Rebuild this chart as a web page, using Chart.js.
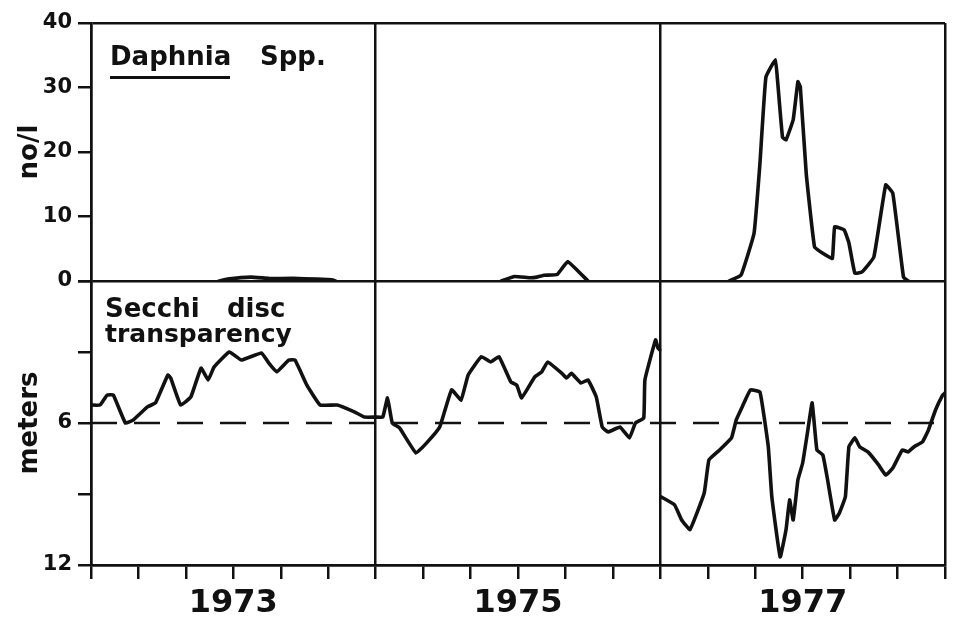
<!DOCTYPE html>
<html>
<head>
<meta charset="utf-8">
<script src="https://cdn.jsdelivr.net/npm/chart.js@4.4.1/dist/chart.umd.min.js"></script>
<style>
  html, body { margin: 0; padding: 0; background: #fff; }
  #wrap { position: relative; width: 956px; height: 619px; overflow: hidden; }
  #c { position: absolute; left: 0; top: 0; }
  .lbl { position: absolute; font-family: "DejaVu Sans", sans-serif; font-weight: bold; color: #111; white-space: pre; line-height: 1; }
  .rule { position: absolute; background: #111; }
</style>
</head>
<body>
<div id="wrap">
  <canvas id="c" width="956" height="619"></canvas>
  <div class="lbl" style="left:110px; top:43px; font-size:26px;">Daphnia</div>
  <div class="rule" style="left:110px; top:76px; width:120px; height:3px;"></div>
  <div class="lbl" style="left:260px; top:43px; font-size:26px;">Spp.</div>
  <div class="lbl" style="left:105px; top:295px; font-size:26px;">Secchi</div>
  <div class="lbl" style="left:227px; top:295px; font-size:26px;">disc</div>
  <div class="lbl" style="left:105px; top:321px; font-size:25px;">transparency</div>
</div>
<script>
// x = month position on the broken time axis: 0–12 = 1973, 12–24 = 1975, 24–36 = 1977
const yearTickPositions = [6, 18, 30];
const yearTickLabels = ['1973', '1975', '1977'];
const daphniaTickLabels = [0, 10, 20, 30, 40];
const secchiTickLabels = [6, 12];
const secchiReference = 6;

// Daphnia spp. (no/l); null = gap between panels
const daphniaMonth = [5.4, 5.75, 6.75, 7.5, 8.5, 9.5, 10.15, 10.3, 14,
  17.3, 17.85, 18.5, 18.8, 19.1, 19.65, 20.1, 20.95, 24,
  26.9, 27.4, 27.95, 28.2, 28.45, 28.85, 28.95, 29.15, 29.3, 29.6, 29.8, 29.9, 30.15,
  30.5, 30.85, 31.25, 31.35, 31.75, 31.95, 32.2, 32.5, 33.0, 33.5, 33.8, 34.25, 34.45];
const daphniaCount = [0, 0.3, 0.6, 0.4, 0.4, 0.3, 0.2, 0, null,
  0, 0.7, 0.5, 0.6, 0.9, 1.0, 3.0, 0, null,
  0, 0.9, 7.4, 18.3, 31.6, 34.3, 30.7, 22.3, 21.9, 25.0, 30.9, 30.1, 16.7,
  5.3, 4.3, 3.5, 8.4, 7.9, 5.9, 1.2, 1.4, 3.7, 14.9, 13.6, 0.6, 0];

// Secchi disc transparency (meters)
const secchiMonth = [0, 0.38, 0.68, 0.94, 1.45, 1.78, 2.38, 2.72, 3.24, 3.36,
  3.78, 4.21, 4.64, 4.94, 5.19, 5.83, 6.34, 7.19, 7.49, 7.83,
  8.34, 8.6, 9.1, 9.66, 10.38, 11.1, 11.53, 12.0,
  12.3, 12.5, 12.7, 13.0, 13.7, 14.15, 14.7, 15.2, 15.6, 15.9,
  16.45, 16.85, 17.2, 17.7, 17.95, 18.15, 18.7, 19.0, 19.25, 19.85,
  20.05, 20.25, 20.65, 20.95, 21.3, 21.55, 21.8, 22.3, 22.7, 22.95,
  23.3, 23.35, 23.8, 23.9, 23.97, 24.0,
  24.03, 24.6, 24.9, 25.25, 25.85, 26.05, 26.5, 27.0, 27.2, 27.45,
  27.8, 28.2, 28.55, 28.7, 29.05, 29.3, 29.45, 29.6, 29.8, 30.0,
  30.2, 30.4, 30.6, 30.85, 31.05, 31.35, 31.55, 31.8, 31.95, 32.2,
  32.4, 32.75, 33.2, 33.5, 33.8, 34.2, 34.45, 34.7, 35.05, 35.3,
  35.6, 35.9, 36.0];
const secchiDepth = [5.24, 5.24, 4.82, 4.82, 6.0, 5.87, 5.32, 5.15, 3.97, 4.1,
  5.24, 4.9, 3.68, 4.18, 3.63, 3.0, 3.34, 3.04, 3.46, 3.84,
  3.34, 3.34, 4.4, 5.24, 5.24, 5.53, 5.75, 5.75,
  5.75, 4.94, 6.0, 6.2, 7.27, 6.84, 6.17, 4.6, 5.03, 3.97,
  3.2, 3.42, 3.2, 4.27, 4.4, 4.94, 4.06, 3.84, 3.42, 3.9,
  4.1, 3.9, 4.31, 4.18, 4.9, 6.17, 6.38, 6.17, 6.63, 6.0,
  5.79, 4.18, 2.49, 2.83, 2.9, null,
  9.12, 9.46, 10.1, 10.5, 8.96, 7.56, 7.14, 6.63, 5.87, 5.32,
  4.6, 4.69, 7.0, 9.12, 11.66, 10.5, 9.25, 10.1, 8.4, 7.69,
  6.42, 5.15, 7.14, 7.35, 8.4, 10.1, 9.8, 9.12, 7.0, 6.63,
  7.0, 7.22, 7.77, 8.2, 7.9, 7.14, 7.22, 7.0, 6.8, 6.3,
  5.45, 4.82, 4.73];

const ink = '#111111';
const clear = 'rgba(0,0,0,0)';
const tickFont = { family: '"DejaVu Sans", sans-serif', size: 21, weight: 'bold' };
const titleFont = { family: '"DejaVu Sans", sans-serif', size: 26, weight: 'bold' };

const toPoints = (xs, ys) => xs.map((x, i) => ({ x: x, y: ys[i] }));

new Chart(document.getElementById('c'), {
  type: 'line',
  data: {
    datasets: [
      {
        label: 'Daphnia Spp.',
        data: toPoints(daphniaMonth, daphniaCount),
        yAxisID: 'yD',
        borderColor: ink, borderWidth: 3.6, pointRadius: 0, tension: 0.1,
        borderJoinStyle: 'round', borderCapStyle: 'round', spanGaps: false, fill: false
      },
      {
        label: 'Secchi disc transparency',
        data: toPoints(secchiMonth, secchiDepth),
        yAxisID: 'yS',
        borderColor: ink, borderWidth: 3.6, pointRadius: 0, tension: 0.1,
        borderJoinStyle: 'round', borderCapStyle: 'round', spanGaps: false, fill: false
      },
      {
        label: '6 m',
        data: [{ x: 0, y: secchiReference }, { x: 36, y: secchiReference }],
        yAxisID: 'yS',
        borderColor: ink, borderWidth: 2.5, borderDash: [26, 17], pointRadius: 0, fill: false
      }
    ]
  },
  options: {
    responsive: false,
    animation: false,
    devicePixelRatio: 1,
    layout: { padding: { top: 23, right: 11, left: 0, bottom: 0 } },
    plugins: { legend: { display: false }, tooltip: { enabled: false } },
    scales: {
      x: {
        type: 'linear', min: 0, max: 36,
        afterFit: s => { s.height = 54; },
        ticks: {
          stepSize: 2, autoSkip: false, maxRotation: 0, minRotation: 0, padding: 5,
          color: ink, font: { family: '"DejaVu Sans", sans-serif', size: 32, weight: 'bold' },
          callback: v => { const i = yearTickPositions.indexOf(v); return i >= 0 ? yearTickLabels[i] : ''; }
        },
        grid: {
          color: c => (c.tick && c.tick.value % 12 === 0) ? ink : clear,
          tickColor: ink, lineWidth: 2.5, tickWidth: 2.5, tickLength: 14, drawTicks: true
        },
        border: { display: true, color: ink, width: 2.5 }
      },
      yS: {
        type: 'linear', position: 'left', stack: 'panels', stackWeight: 284,
        reverse: true, min: 0, max: 12,
        afterFit: s => { s.width = 91; },
        ticks: {
          stepSize: 3, padding: 6, color: ink, font: tickFont,
          callback: v => secchiTickLabels.includes(v) ? String(v) : ''
        },
        grid: {
          color: c => (c.tick && c.tick.value === 12) ? ink : clear,
          tickColor: ink, lineWidth: 2.5, tickWidth: 2.5, tickLength: 13
        },
        border: { display: true, color: ink, width: 2.5 },
        title: { display: true, text: 'meters', color: ink, font: titleFont, padding: { top: 15, bottom: 0 } }
      },
      yD: {
        type: 'linear', position: 'left', stack: 'panels', stackWeight: 258,
        min: 0, max: 40,
        afterFit: s => { s.width = 91; },
        ticks: {
          stepSize: 5, padding: 6, color: ink, font: tickFont,
          callback: v => daphniaTickLabels.includes(v) ? String(v) : ''
        },
        grid: {
          color: c => (c.tick && (c.tick.value === 0 || c.tick.value === 40)) ? ink : clear,
          tickColor: ink, lineWidth: 2.5, tickWidth: 2.5, tickLength: 13
        },
        border: { display: true, color: ink, width: 2.5 },
        title: { display: true, text: 'no/l', color: ink, font: titleFont, padding: { top: 15, bottom: 0 } }
      }
    }
  }
});
</script>
</body>
</html>
